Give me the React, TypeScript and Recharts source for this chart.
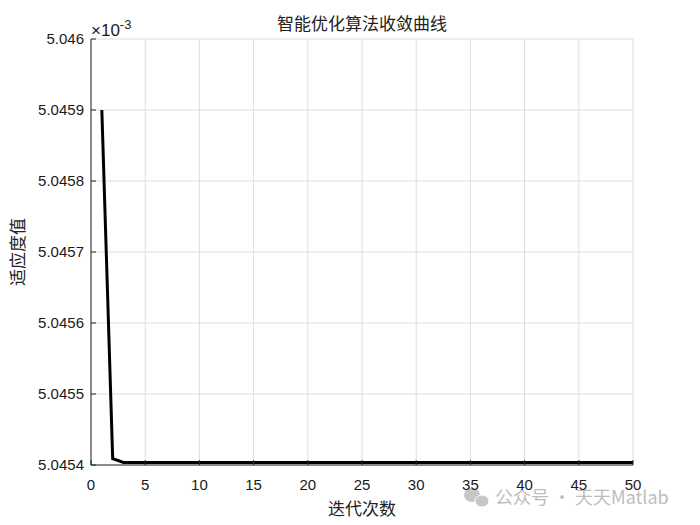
import React from "react";
import { LineChart, Line, XAxis, YAxis, CartesianGrid } from "recharts";

// fitness values in units of 1e-3
const iterations = [
  1, 2, 3, 4, 5, 6, 7, 8, 9, 10, 11, 12, 13, 14, 15, 16, 17, 18, 19, 20, 21, 22, 23, 24, 25,
  26, 27, 28, 29, 30, 31, 32, 33, 34, 35, 36, 37, 38, 39, 40, 41, 42, 43, 44, 45, 46, 47, 48, 49, 50,
];
const fitness = [
  5.04590, 5.045409, 5.0454036, 5.0454034, 5.0454034, 5.0454034, 5.0454034, 5.0454034, 5.0454034, 5.0454034,
  5.0454034, 5.0454034, 5.0454034, 5.0454034, 5.0454034, 5.0454034, 5.0454034, 5.0454034, 5.0454034, 5.0454034,
  5.0454034, 5.0454034, 5.0454034, 5.0454034, 5.0454034, 5.0454034, 5.0454034, 5.0454034, 5.0454034, 5.0454034,
  5.0454034, 5.0454034, 5.0454034, 5.0454034, 5.0454034, 5.0454034, 5.0454034, 5.0454034, 5.0454034, 5.0454034,
  5.0454034, 5.0454034, 5.0454034, 5.0454034, 5.0454034, 5.0454034, 5.0454034, 5.0454034, 5.0454034, 5.0454034,
];
const xTicks = [0, 5, 10, 15, 20, 25, 30, 35, 40, 45, 50];
const yTicks = [5.0454, 5.0455, 5.0456, 5.0457, 5.0458, 5.0459, 5.046];

const data = iterations.map((it, i) => ({ iter: it, value: fitness[i] }));

const AXIS = "#262626";
const FONT = "'Liberation Sans', Arial, sans-serif";
const CJK = "'Noto Sans CJK SC', sans-serif";

const fmtY = (v: number) => String(parseFloat(v.toFixed(4)));

export default function App() {
  return (
    <div style={{ position: "absolute", left: 0, top: 0, width: 700, height: 525, background: "#fff" }}>
      <LineChart
        width={700}
        height={525}
        data={data}
        margin={{ top: 39, right: 67, left: 0, bottom: 0 }}
      >
        <CartesianGrid
          xAxisId="b"
          yAxisId="l"
          stroke="#dedede"
          strokeWidth={1}
          horizontalValues={yTicks}
          verticalValues={xTicks}
        />
        <XAxis
          xAxisId="b"
          dataKey="iter"
          type="number"
          domain={[0, 50]}
          ticks={xTicks}
          height={60}
          stroke={AXIS}
          tickSize={-5}
          tickMargin={19}
          tick={{ fill: "#1a1a1a", fontSize: 15, fontFamily: FONT }}
        />
        <XAxis
          xAxisId="t"
          orientation="top"
          dataKey="iter"
          type="number"
          domain={[0, 50]}
          ticks={xTicks}
          height={0}
          stroke={AXIS}
          tickSize={-5}
          tick={false}
        />
        <YAxis
          yAxisId="l"
          type="number"
          domain={[5.0454, 5.046]}
          ticks={yTicks}
          width={91}
          stroke={AXIS}
          tickSize={-5}
          tickMargin={12}
          tickFormatter={fmtY}
          tick={{ fill: "#1a1a1a", fontSize: 15, fontFamily: FONT }}
        />
        <YAxis
          yAxisId="r"
          orientation="right"
          type="number"
          domain={[5.0454, 5.046]}
          ticks={yTicks}
          width={0}
          stroke={AXIS}
          tickSize={-5}
          tick={false}
        />
        <Line
          xAxisId="b"
          yAxisId="l"
          dataKey="value"
          type="linear"
          stroke="#000"
          strokeWidth={3}
          dot={false}
          isAnimationActive={false}
        />
        <text x={362} y={30} textAnchor="middle" fontSize={17} fontFamily={CJK} fill="#222">
          智能优化算法收敛曲线
        </text>
        <text x={91} y={36} fontSize={17} fontFamily={FONT} fill="#1a1a1a">
          ×10
          <tspan dy={-7} fontSize={13}>-3</tspan>
        </text>
        <text x={362} y={515} textAnchor="middle" fontSize={17} fontFamily={CJK} fill="#222">
          迭代次数
        </text>
        <text
          x={24}
          y={252}
          textAnchor="middle"
          fontSize={17}
          fontFamily={CJK}
          fill="#222"
          transform="rotate(-90 24 252)"
        >
          适应度值
        </text>
        <g opacity={0.75}>
          <ellipse cx={472} cy={495} rx={8} ry={7} fill="#b5b5b5" />
          <ellipse cx={482} cy={501} rx={7} ry={6} fill="#b5b5b5" stroke="#fff" strokeWidth={1} />
          <text x={495} y={504} fontSize={18} fontFamily={CJK} fill="#a8a8a8">
            公众号 · 天天Matlab
          </text>
        </g>
      </LineChart>
    </div>
  );
}
